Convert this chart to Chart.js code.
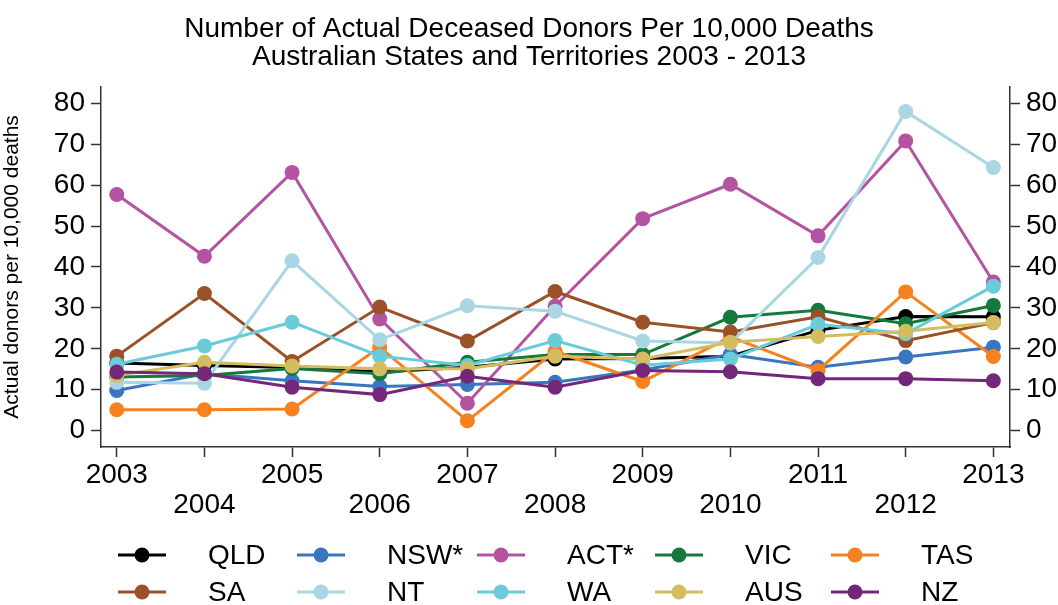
<!DOCTYPE html>
<html>
<head>
<meta charset="utf-8">
<script src="https://cdn.jsdelivr.net/npm/chart.js@4.4.1/dist/chart.umd.min.js"></script>
<style>
  html, body { margin: 0; padding: 0; background: #fff; }
  #wrap { width: 1058px; height: 605px; position: relative; }
</style>
</head>
<body>
<div id="wrap"><canvas id="chart"></canvas></div>
<script>
// years and series
var years = [2003, 2004, 2005, 2006, 2007, 2008, 2009, 2010, 2011, 2012, 2013];
var yTicks = [0, 10, 20, 30, 40, 50, 60, 70, 80];

var QLD  = [16.5, 15.9, 15.4, 14.3, 15.5, 17.5, 17.6, 18.2, 24.5, 27.9, 27.8];
var NSW  = [9.8, 13.9, 12.2, 10.8, 11.3, 11.8, 14.8, 18.6, 15.5, 18.0, 20.4];
var ACT  = [57.7, 42.6, 63.1, 27.3, 6.7, 30.4, 51.8, 60.2, 47.6, 70.8, 36.3];
var VIC  = [13.1, 13.5, 15.2, 13.9, 16.7, 18.6, 18.6, 27.7, 29.4, 26.1, 30.6];
var TAS  = [5.1, 5.1, 5.3, 20.4, 2.4, 19.4, 12.0, 22.9, 14.7, 33.9, 18.1];
var SA   = [18.2, 33.5, 16.9, 30.2, 21.9, 34.0, 26.5, 24.1, 27.8, 22.0, 26.4];
var NT   = [11.8, 11.6, 41.5, 22.2, 30.5, 29.2, 21.9, 21.4, 42.3, 78.0, 64.3];
var WA   = [16.2, 20.7, 26.5, 18.2, 15.9, 22.0, 16.0, 17.5, 26.0, 23.7, 35.3];
var AUS  = [13.5, 16.7, 15.8, 15.1, 15.1, 18.2, 17.5, 21.6, 23.0, 24.3, 26.4];
var NZ   = [14.3, 13.9, 10.6, 8.8, 13.3, 10.6, 14.7, 14.4, 12.7, 12.7, 12.2];

var seriesNames  = ["QLD", "NSW*", "ACT*", "VIC", "TAS", "SA", "NT", "WA", "AUS", "NZ"];
var seriesValues = [QLD, NSW, ACT, VIC, TAS, SA, NT, WA, AUS, NZ];
var seriesColors = ["#000000", "#3a75bf", "#b453a2", "#147a3c", "#f5821f",
                    "#9b5128", "#a9d6e3", "#6acbd9", "#d4bc60", "#742779"];

var FONT = "'Liberation Sans', Arial, sans-serif";

var datasets = seriesNames.map(function (name, i) {
    return {
        label: name,
        data: years.map(function (yr, j) { return { x: yr, y: seriesValues[i][j] }; }),
        borderColor: seriesColors[i],
        backgroundColor: seriesColors[i],
        borderWidth: 3,
        pointRadius: 7.5,
        pointHoverRadius: 7.5,
        pointBorderWidth: 0,
        tension: 0,
        // later series drawn on top like the original
        order: seriesNames.length - i
    };
});

// legend drawn as a 5 x 2 grid under the plot
var gridLegend = {
    id: "gridLegend",
    afterDraw: function (chart) {
        var ctx = chart.ctx;
        var colX = [118, 297, 477, 655, 831];
        var rowY = [555, 592];
        ctx.save();
        ctx.font = "28px " + FONT;
        ctx.textBaseline = "middle";
        ctx.textAlign = "left";
        seriesNames.forEach(function (name, i) {
            var x = colX[i % 5], y = rowY[Math.floor(i / 5)];
            ctx.strokeStyle = seriesColors[i];
            ctx.lineWidth = 3;
            ctx.beginPath();
            ctx.moveTo(x, y);
            ctx.lineTo(x + 48, y);
            ctx.stroke();
            ctx.fillStyle = seriesColors[i];
            ctx.beginPath();
            ctx.arc(x + 24, y, 7.5, 0, Math.PI * 2);
            ctx.fill();
            ctx.fillStyle = "#000";
            ctx.fillText(name, x + 90, y + 1);
        });
        ctx.restore();
    }
};

var axisCommon = {
    border: { display: true, color: "#333", width: 1.5 },
    grid: { drawOnChartArea: false, color: "#333", tickLength: 10, tickWidth: 1.5, tickColor: "#333" }
};

new Chart(document.getElementById("chart").getContext("2d"), {
    type: "line",
    data: { datasets: datasets },
    plugins: [gridLegend],
    options: {
        responsive: true,
        maintainAspectRatio: false,
        animation: false,
        layout: { padding: { left: 0, right: 0, top: 0, bottom: 0 } },
        plugins: {
            legend: { display: false },
            tooltip: { enabled: false },
            title: {
                display: true,
                text: ["Number of Actual Deceased Donors Per 10,000 Deaths",
                       "Australian States and Territories 2003 - 2013"],
                color: "#000",
                font: { family: FONT, size: 28, weight: "normal", lineHeight: 0.98 },
                padding: { top: 16, bottom: 16 }
            }
        },
        scales: {
            x: Object.assign({}, axisCommon, {
                type: "linear",
                min: 2002.82,
                max: 2013.19,
                afterBuildTicks: function (s) { s.ticks = years.map(function (v) { return { value: v }; }); },
                afterFit: function (s) { s.height = 158; },
                ticks: {
                    color: "#000",
                    padding: 4,
                    maxRotation: 0,
                    autoSkip: false,
                    font: { family: FONT, size: 28, lineHeight: 1.05 },
                    callback: function (v) { return v % 2 === 1 ? String(v) : ["", String(v)]; }
                }
            }),
            y: Object.assign({}, axisCommon, {
                position: "left",
                min: -4,
                max: 84,
                afterBuildTicks: function (s) { s.ticks = yTicks.map(function (v) { return { value: v }; }); },
                afterFit: function (s) { s.width = 101; },
                ticks: { color: "#000", padding: 6, font: { family: FONT, size: 28 } },
                title: {
                    display: true,
                    text: "Actual donors per 10,000 deaths",
                    color: "#000",
                    font: { family: FONT, size: 21 },
                    padding: { top: 0, bottom: 4 }
                }
            }),
            y2: Object.assign({}, axisCommon, {
                position: "right",
                min: -4,
                max: 84,
                afterBuildTicks: function (s) { s.ticks = yTicks.map(function (v) { return { value: v }; }); },
                afterFit: function (s) { s.width = 48; },
                ticks: { color: "#000", padding: 6, font: { family: FONT, size: 28 } }
            })
        }
    }
});
</script>
</body>
</html>
